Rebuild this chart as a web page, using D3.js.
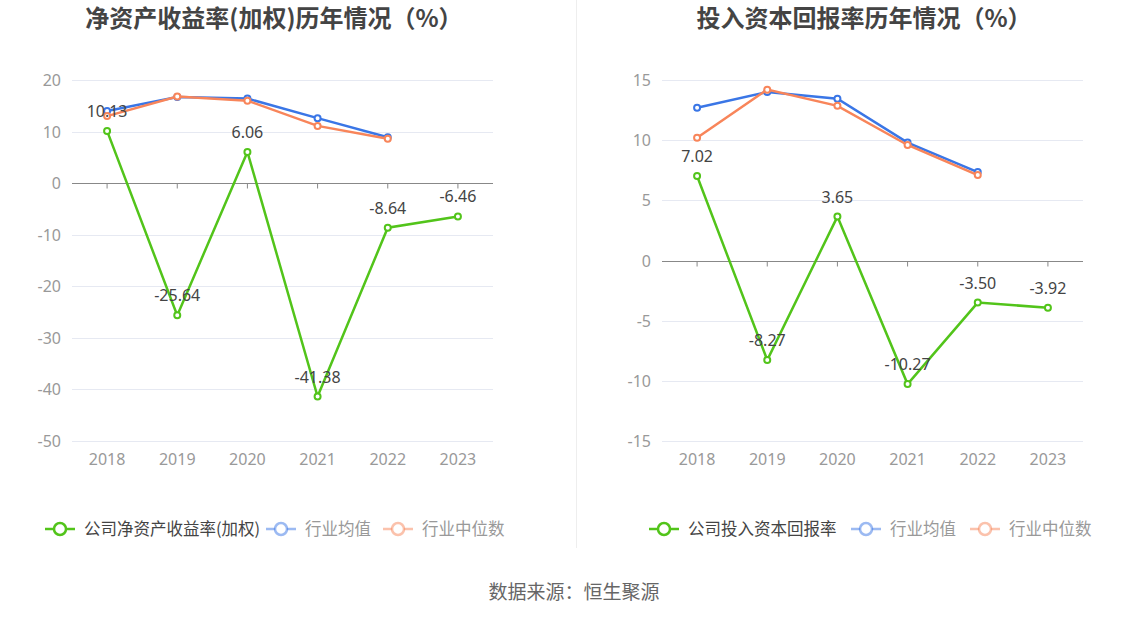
<!DOCTYPE html>
<html>
<head>
<meta charset="utf-8">
<script src="https://cdn.jsdelivr.net/npm/d3@7"></script>
<style>
  body { margin: 0; background: #fff; font-family: "Noto Sans CJK SC", "Noto Sans", sans-serif; }
</style>
</head>
<body>
<div id="chart-area"></div>
<script>
// data
let years = ["2018", "2019", "2020", "2021", "2022", "2023"];

let roeCompany = [10.13, -25.64, 6.06, -41.38, -8.64, -6.46];
let roeMean = [14.0, 16.7, 16.4, 12.6, 8.9, null];
let roeMedian = [13.0, 16.8, 16.0, 11.1, 8.6, null];
let roeTicks = [20, 10, 0, -10, -20, -30, -40, -50];

let roicCompany = [7.02, -8.27, 3.65, -10.27, -3.50, -3.92];
let roicMean = [12.7, 14.0, 13.45, 9.8, 7.35, null];
let roicMedian = [10.2, 14.2, 12.85, 9.6, 7.1, null];
let roicTicks = [15, 10, 5, 0, -5, -10, -15];

let width = 1148;
let height = 619;

let green = "#52c41a";
let blue = "#3a76e6";
let orange = "#f8855a";
let numFont = "'Noto Sans', 'Noto Sans CJK SC', sans-serif";

let svg = d3.select("#chart-area")
    .append("svg")
    .attr("width", width)
    .attr("height", height);

// divider between the two panels
svg.append("line")
    .attr("x1", 576.5).attr("x2", 576.5)
    .attr("y1", 0).attr("y2", 548)
    .attr("stroke", "#eeeeee");

// source
svg.append("text")
    .attr("x", 574)
    .attr("y", 599)
    .attr("text-anchor", "middle")
    .attr("font-size", 19)
    .attr("fill", "#666")
    .text("数据来源：恒生聚源");

function drawPanel(opts) {
    let g = svg.append("g");

    g.append("text")
        .attr("x", opts.titleX)
        .attr("y", 27)
        .attr("text-anchor", "middle")
        .attr("font-size", 24)
        .attr("font-weight", "bold")
        .attr("fill", "#444")
        .text(opts.title);

    let x = d3.scaleBand()
        .domain(years)
        .range([opts.left, opts.right]);

    let y = d3.scaleLinear()
        .domain(opts.domain)
        .range([441, 80]);

    // grid lines
    g.append("g")
        .selectAll("line")
        .data(opts.ticks.filter(t => t !== 0))
        .enter()
        .append("line")
        .attr("x1", opts.left)
        .attr("x2", opts.right)
        .attr("y1", d => Math.round(y(d)) + 0.5)
        .attr("y2", d => Math.round(y(d)) + 0.5)
        .attr("stroke", "#e6e9f2");

    // y labels
    g.append("g")
        .selectAll("text")
        .data(opts.ticks)
        .enter()
        .append("text")
        .attr("x", opts.left - 11)
        .attr("y", d => y(d) + 6)
        .attr("text-anchor", "end")
        .attr("font-family", numFont)
        .attr("font-size", 16)
        .attr("fill", "#999")
        .text(d => d);

    // zero axis with ticks
    let y0 = Math.round(y(0)) + 0.5;
    g.append("line")
        .attr("x1", opts.left)
        .attr("x2", opts.right)
        .attr("y1", y0)
        .attr("y2", y0)
        .attr("stroke", "#888")
        .attr("stroke-width", 1.2);
    g.append("g")
        .selectAll("line")
        .data(years)
        .enter()
        .append("line")
        .attr("x1", d => x(d) + x.bandwidth() / 2)
        .attr("x2", d => x(d) + x.bandwidth() / 2)
        .attr("y1", y0)
        .attr("y2", y0 + 5)
        .attr("stroke", "#888");

    // x labels
    g.append("g")
        .selectAll("text")
        .data(years)
        .enter()
        .append("text")
        .attr("x", d => x(d) + x.bandwidth() / 2)
        .attr("y", 465)
        .attr("text-anchor", "middle")
        .attr("font-family", numFont)
        .attr("font-size", 16)
        .attr("fill", "#999")
        .text(d => d);

    let series = [
        { values: opts.mean, color: blue },
        { values: opts.median, color: orange },
        { values: opts.company, color: green, labels: true }
    ];

    series.forEach(s => {
        let pts = years.map((yr, i) => ({ yr: yr, v: s.values[i] }))
            .filter(p => p.v !== null);

        let line = d3.line()
            .x(p => x(p.yr) + x.bandwidth() / 2)
            .y(p => y(p.v));

        g.append("path")
            .datum(pts)
            .attr("d", line)
            .attr("fill", "none")
            .attr("stroke", s.color)
            .attr("stroke-width", 2.5);

        g.append("g")
            .selectAll("circle")
            .data(pts)
            .enter()
            .append("circle")
            .attr("cx", p => x(p.yr) + x.bandwidth() / 2)
            .attr("cy", p => y(p.v))
            .attr("r", 3)
            .attr("fill", "#fff")
            .attr("stroke", s.color)
            .attr("stroke-width", 2);

        if (s.labels) {
            g.append("g")
                .selectAll("text")
                .data(pts)
                .enter()
                .append("text")
                .attr("x", p => x(p.yr) + x.bandwidth() / 2)
                .attr("y", p => y(p.v) - 14)
                .attr("text-anchor", "middle")
                .attr("font-family", numFont)
                .attr("font-size", 16)
                .attr("fill", "#444")
                .text(p => p.v.toFixed(2));
        }
    });

    // legend
    let legend = [
        { name: opts.legendName, color: green, text: "#444", op: 1 },
        { name: "行业均值", color: blue, text: "#999", op: 0.5 },
        { name: "行业中位数", color: orange, text: "#999", op: 0.5 }
    ];
    legend.forEach((d, i) => {
        let lx = opts.legendX[i];
        let lg = g.append("g");
        lg.append("line")
            .attr("x1", lx).attr("x2", lx + 30)
            .attr("y1", 529).attr("y2", 529)
            .attr("stroke", d.color)
            .attr("stroke-opacity", d.op)
            .attr("stroke-width", 2.5);
        lg.append("circle")
            .attr("cx", lx + 15).attr("cy", 529).attr("r", 6)
            .attr("fill", "#fff")
            .attr("stroke", d.color)
            .attr("stroke-opacity", d.op)
            .attr("stroke-width", 2.5);
        lg.append("text")
            .attr("x", lx + 39)
            .attr("y", 535)
            .attr("font-size", 16.5)
            .attr("fill", d.text)
            .text(d.name);
    });
}

drawPanel({
    title: "净资产收益率(加权)历年情况（%）",
    titleX: 274,
    left: 72, right: 493,
    domain: [-50, 20],
    ticks: roeTicks,
    company: roeCompany, mean: roeMean, median: roeMedian,
    legendName: "公司净资产收益率(加权)",
    legendX: [45, 266, 383]
});

drawPanel({
    title: "投入资本回报率历年情况（%）",
    titleX: 864,
    left: 662, right: 1083,
    domain: [-15, 15],
    ticks: roicTicks,
    company: roicCompany, mean: roicMean, median: roicMedian,
    legendName: "公司投入资本回报率",
    legendX: [649, 851, 970]
});
</script>
</body>
</html>
